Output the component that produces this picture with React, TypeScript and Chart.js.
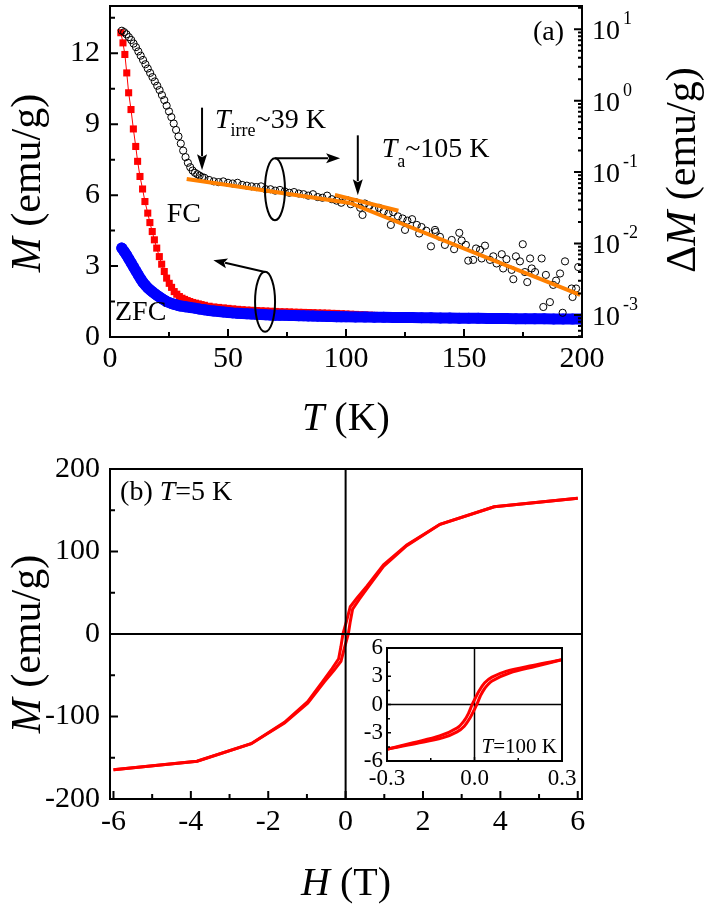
import React, { useEffect, useRef } from "react";
import { Chart, registerables } from "chart.js";
Chart.register(...registerables);

const SERIF = '"Liberation Serif", "Times New Roman", serif';
const RED = "#ff0000";
const BLUE = "#0000ff";
const ORANGE = "#ff8000";

// ---------------- Panel (a) : M(T) and ΔM(T) ----------------
const tTicks = [0, 50, 100, 150, 200];
const tMinor = [25, 75, 125, 175];
const mTicksA = [0, 3, 6, 9, 12];
const mMinorA = [1.5, 4.5, 7.5, 10.5, 13.5];
const dmDecades = [-3, -2, -1, 0, 1];

// FC (red squares)
const fcLowT = [4.6, 5.5, 6.3, 7.1, 7.9, 8.9, 9.9, 10.9, 11.7, 12.7, 13.8, 14.8, 16, 16.9, 17.9, 18.8, 19.8, 20.9, 21.9, 23, 24, 25.1, 26.1, 27.2, 28.3, 29.4, 30.5, 31.6, 32.7, 33.8, 35, 36.2, 37.4, 38.6, 40];
const fcLowM = [12.87, 12.44, 11.95, 11.17, 10.33, 9.62, 8.8, 8.06, 7.43, 6.79, 6.26, 5.73, 5.24, 4.84, 4.46, 4.11, 3.76, 3.4, 3.08, 2.77, 2.49, 2.27, 2.1, 1.92, 1.81, 1.71, 1.64, 1.59, 1.54, 1.5, 1.46, 1.43, 1.4, 1.37, 1.34];
const fcHighT = [42, 44, 46, 48, 50, 52, 54, 56, 58, 60, 62, 64, 66, 68, 70, 72, 74, 76, 78, 80, 82, 84, 86, 88, 90, 92, 94, 96, 98, 100, 102, 104, 106, 108, 110, 112, 116, 120, 124, 128, 132, 136, 140, 144, 148, 152, 156, 160, 164, 168, 172, 176, 180, 184, 188, 192, 196, 200];
const fcHighM = [1.3, 1.27, 1.25, 1.23, 1.21, 1.19, 1.17, 1.155, 1.14, 1.13, 1.12, 1.11, 1.1, 1.09, 1.08, 1.07, 1.065, 1.06, 1.05, 1.045, 1.04, 1.035, 1.03, 1.02, 1.015, 1.01, 1.0, 0.995, 0.985, 0.975, 0.965, 0.955, 0.945, 0.935, 0.925, 0.915, 0.9, 0.89, 0.88, 0.87, 0.865, 0.86, 0.855, 0.85, 0.845, 0.84, 0.835, 0.83, 0.83, 0.825, 0.82, 0.815, 0.81, 0.81, 0.805, 0.8, 0.8, 0.795];

// ZFC (blue circles)
const zfcT = [5, 6, 7, 8, 9, 10, 11, 12, 13, 14, 15, 16, 17, 18, 19, 20, 21, 22, 23, 24, 25, 26, 27, 28, 29, 30, 32, 34, 36, 38, 40, 42, 44, 46, 48, 50, 52, 54, 56, 58, 60, 62, 64, 66, 68, 70, 72, 74, 76, 78, 80, 82, 84, 86, 88, 90, 92, 94, 96, 98, 100, 104, 108, 112, 116, 120, 124, 128, 132, 136, 140, 144, 148, 152, 156, 160, 164, 168, 172, 176, 180, 184, 188, 192, 196, 200];
const zfcM = [3.76, 3.62, 3.47, 3.3, 3.13, 2.96, 2.79, 2.62, 2.46, 2.31, 2.19, 2.08, 1.99, 1.91, 1.83, 1.76, 1.69, 1.62, 1.56, 1.5, 1.46, 1.42, 1.39, 1.36, 1.33, 1.31, 1.28, 1.25, 1.22, 1.18, 1.15, 1.12, 1.1, 1.08, 1.06, 1.04, 1.02, 1.005, 0.99, 0.98, 0.97, 0.96, 0.95, 0.94, 0.93, 0.925, 0.92, 0.915, 0.91, 0.905, 0.9, 0.895, 0.89, 0.885, 0.88, 0.875, 0.87, 0.865, 0.86, 0.857, 0.854, 0.85, 0.845, 0.84, 0.835, 0.83, 0.825, 0.82, 0.815, 0.81, 0.805, 0.8, 0.797, 0.794, 0.79, 0.787, 0.784, 0.78, 0.777, 0.774, 0.771, 0.768, 0.765, 0.762, 0.76, 0.757];

// ΔM (open circles, right log axis)
const dmLowT = [5, 6, 7, 8, 9, 10, 11, 12, 13, 14, 15, 16, 17, 18, 19, 20, 21, 22, 23, 24, 25, 26, 27, 28, 29, 30, 31, 32, 33, 34, 35, 36, 37, 38, 39, 40];
const dmLowV = [9.55, 9.12, 8.51, 7.76, 7.08, 6.31, 5.62, 4.9, 4.27, 3.72, 3.24, 2.82, 2.45, 2.14, 1.86, 1.62, 1.41, 1.2, 1.02, 0.851, 0.708, 0.589, 0.479, 0.389, 0.316, 0.251, 0.2, 0.162, 0.135, 0.117, 0.105, 0.0977, 0.0933, 0.0891, 0.0851, 0.0832];
const dmMidT = [42, 44, 46, 48, 50, 52, 54, 56, 58, 60, 62, 64, 66, 68, 70, 72, 74, 76, 78, 80, 82, 84, 86, 88, 90, 92, 94, 96, 98, 100, 102, 104, 106, 108, 110, 112, 114, 116, 118, 120, 122, 124, 126, 128, 130, 132, 134, 136, 138, 101, 107, 119, 125, 131, 137.7];
const dmMidV = [0.0776, 0.0741, 0.0724, 0.0741, 0.0708, 0.0692, 0.0708, 0.0661, 0.0646, 0.0631, 0.0617, 0.0631, 0.0575, 0.0575, 0.055, 0.0562, 0.0537, 0.0513, 0.0525, 0.0501, 0.049, 0.0468, 0.049, 0.0447, 0.0437, 0.0468, 0.0417, 0.0398, 0.0372, 0.0407, 0.0355, 0.038, 0.0316, 0.0363, 0.0339, 0.0302, 0.0316, 0.0282, 0.0263, 0.0275, 0.024, 0.0224, 0.0209, 0.0219, 0.0182, 0.017, 0.0151, 0.00912, 0.0145, 0.0398, 0.0251, 0.0182, 0.0155, 0.0138, 0.0155];
const dmHighT = [139.8, 141.9, 144.8, 145.8, 148, 149, 150.8, 151.8, 153.9, 155.1, 156.8, 157.5, 158.9, 161, 162.4, 163.8, 166, 166.6, 168, 170.2, 170.9, 172, 173.7, 174.9, 175.8, 176.8, 178, 178.7, 180.1, 182.9, 183.6, 184.7, 186.4, 187.8, 189, 190.7, 191.8, 192.8, 195.6, 196, 197.5, 198.4];
const dmHighV = [0.0124, 0.00955, 0.0112, 0.00832, 0.0141, 0.011, 0.00955, 0.00575, 0.00589, 0.00851, 0.00813, 0.00617, 0.00933, 0.00589, 0.00661, 0.00525, 0.00708, 0.00447, 0.00603, 0.00427, 0.00316, 0.00661, 0.00562, 0.00977, 0.00398, 0.00288, 0.00617, 0.00447, 0.00398, 0.00617, 0.00129, 0.00363, 0.00151, 0.00263, 0.00302, 0.0038, 0.00107, 0.00562, 0.00234, 0.00178, 0.00234, 0.00468];

// Orange linear fits on the log axis
const fitAT = [32.5, 101.7];
const fitAV = [0.08, 0.0369];
const fitBT = [95.3, 122.2];
const fitBV = [0.0479, 0.0288];
const fitCT = [101.7, 199.2];
const fitCV = [0.0369, 0.00191];

// ---------------- Panel (b) : M(H) at 5 K ----------------
const hTicks = [-6, -4, -2, 0, 2, 4, 6];
const hMinor = [-5, -3, -1, 1, 3, 5];
const mTicksB = [-200, -100, 0, 100, 200];
const mMinorB = [-150, -50, 50, 150];
const loopDownH = [6, 3.84, 2.44, 1.58, 0.98, 0.55, 0.3, 0.12, 0.02, -0.07, -0.12, -0.18, -0.35, -0.6, -0.98, -1.58, -2.44, -3.84, -6];
const loopDownM = [164.5, 154.3, 133, 108, 84, 58, 44, 33, 15, 0, -15, -30, -42, -58, -82, -107, -133, -154.3, -164.5];
const loopUpH = [-6, -3.84, -2.44, -1.58, -0.98, -0.55, -0.3, -0.12, -0.02, 0.07, 0.12, 0.18, 0.35, 0.6, 0.98, 1.58, 2.44, 3.84, 6];
const loopUpM = [-164.5, -154.3, -133, -108, -84, -58, -44, -33, -15, 0, 15, 30, 42, 58, 82, 107, 133, 154.3, 164.5];

// Inset : M(H) at 100 K
const inHTicks = [-0.3, 0, 0.3];
const inHMinor = [-0.15, 0.15];
const inMTicks = [-6, -3, 0, 3, 6];
const inMMinor = [-4.5, -1.5, 1.5, 4.5];
const inDownH = [0.3, 0.2, 0.11, 0.06, 0.035, 0.015, 0.0, -0.008, -0.02, -0.035, -0.06, -0.12, -0.21, -0.3];
const inDownM = [4.75, 4.15, 3.55, 2.9, 2.3, 1.4, 0.5, 0, -0.9, -1.7, -2.5, -3.35, -4.06, -4.75];
const inUpH = [-0.3, -0.2, -0.11, -0.06, -0.035, -0.015, 0.0, 0.008, 0.02, 0.035, 0.06, 0.12, 0.21, 0.3];
const inUpM = [-4.75, -4.15, -3.55, -2.9, -2.3, -1.4, -0.5, 0, 0.9, 1.7, 2.5, 3.35, 4.06, 4.75];

// ---------------- helpers ----------------
const pts = (xs: number[], ys: number[]) => xs.map((x, i) => ({ x, y: ys[i] }));

type Run = { t: string; italic?: boolean; size: number; dy?: number };

function drawRuns(ctx: CanvasRenderingContext2D, runs: Run[], x: number, y: number, align: "left" | "center" | "right") {
  ctx.textAlign = "left";
  ctx.textBaseline = "alphabetic";
  let w = 0;
  for (const r of runs) {
    ctx.font = `${r.italic ? "italic " : ""}${r.size}px ${SERIF}`;
    w += ctx.measureText(r.t).width;
  }
  let cx = align === "left" ? x : align === "center" ? x - w / 2 : x - w;
  for (const r of runs) {
    ctx.font = `${r.italic ? "italic " : ""}${r.size}px ${SERIF}`;
    ctx.fillText(r.t, cx, y + (r.dy || 0));
    cx += ctx.measureText(r.t).width;
  }
}

function drawRotated(ctx: CanvasRenderingContext2D, runs: Run[], x: number, y: number) {
  ctx.save();
  ctx.translate(x, y);
  ctx.rotate(-Math.PI / 2);
  drawRuns(ctx, runs, 0, 0, "center");
  ctx.restore();
}

function arrow(ctx: CanvasRenderingContext2D, x1: number, y1: number, x2: number, y2: number, hl = 15, hw = 5) {
  const a = Math.atan2(y2 - y1, x2 - x1);
  const bx = x2 - hl * Math.cos(a);
  const by = y2 - hl * Math.sin(a);
  ctx.beginPath();
  ctx.moveTo(x1, y1);
  ctx.lineTo(bx + 2 * Math.cos(a), by + 2 * Math.sin(a));
  ctx.stroke();
  ctx.beginPath();
  ctx.moveTo(x2, y2);
  ctx.lineTo(bx + hw * Math.sin(a), by - hw * Math.cos(a));
  ctx.lineTo(bx + 3 * Math.cos(a), by + 3 * Math.sin(a));
  ctx.lineTo(bx - hw * Math.sin(a), by + hw * Math.cos(a));
  ctx.closePath();
  ctx.fill();
}

function ticksBottom(ctx: CanvasRenderingContext2D, s: any, bottom: number, vals: number[], len: number) {
  for (const v of vals) {
    const x = s.getPixelForValue(v);
    ctx.moveTo(x, bottom);
    ctx.lineTo(x, bottom - len);
  }
}
function ticksLeft(ctx: CanvasRenderingContext2D, s: any, left: number, vals: number[], len: number) {
  for (const v of vals) {
    const y = s.getPixelForValue(v);
    ctx.moveTo(left, y);
    ctx.lineTo(left + len, y);
  }
}
function ticksRight(ctx: CanvasRenderingContext2D, s: any, right: number, vals: number[], len: number) {
  for (const v of vals) {
    const y = s.getPixelForValue(v);
    ctx.moveTo(right, y);
    ctx.lineTo(right - len, y);
  }
}

const fixW = (w: number) => (s: any) => {
  s.width = w;
  s.paddingTop = 0;
  s.paddingBottom = 0;
  s.paddingLeft = 0;
  s.paddingRight = 0;
};
const fixH = (h: number) => (s: any) => {
  s.height = h;
  s.paddingTop = 0;
  s.paddingBottom = 0;
  s.paddingLeft = 0;
  s.paddingRight = 0;
};
const useTicks = (vals: number[]) => (s: any) => {
  s.ticks = vals.map((v) => ({ value: v }));
};

const noGrid = { display: false, drawTicks: false };
const noBorder = { display: false };

// ---------------- chart builders ----------------
function makeTop(canvas: HTMLCanvasElement) {
  const plugin = {
    id: "panelA",
    afterDraw(chart: any) {
      const { ctx, chartArea: a, scales } = chart;
      const xs = scales.x, ys = scales.y, yr = scales.y1;
      const X = (v: number) => xs.getPixelForValue(v);
      const Y = (v: number) => ys.getPixelForValue(v);
      ctx.save();
      ctx.strokeStyle = "#000";
      ctx.fillStyle = "#000";
      ctx.lineWidth = 2;
      ctx.strokeRect(a.left, a.top, a.right - a.left, a.bottom - a.top);
      ctx.beginPath();
      ticksBottom(ctx, xs, a.bottom, tTicks, 8);
      ticksBottom(ctx, xs, a.bottom, tMinor, 5);
      ticksLeft(ctx, ys, a.left, mTicksA, 8);
      ticksLeft(ctx, ys, a.left, mMinorA, 5);
      ticksRight(ctx, yr, a.right, dmDecades.map((e) => Math.pow(10, e)), 8);
      const minor: number[] = [];
      for (let e = -4; e <= 1; e++) {
        for (let m = 2; m <= 9; m++) {
          const v = m * Math.pow(10, e);
          if (v >= yr.min && v <= yr.max) minor.push(v);
        }
      }
      ticksRight(ctx, yr, a.right, minor, 4);
      ctx.stroke();

      // right log labels 10^n
      for (const e of dmDecades) {
        const y = yr.getPixelForValue(Math.pow(10, e));
        ctx.font = `28px ${SERIF}`;
        ctx.textAlign = "left";
        ctx.textBaseline = "alphabetic";
        ctx.fillText("10", a.right + 10, y + 10);
        const w = ctx.measureText("10").width;
        ctx.font = `18px ${SERIF}`;
        ctx.fillText(String(e), a.right + 10 + w + 3, y - 5);
      }

      // axis titles
      drawRuns(ctx, [{ t: "T", italic: true, size: 40 }, { t: " (K)", size: 40 }], (a.left + a.right) / 2, 430, "center");
      drawRotated(ctx, [{ t: "M", italic: true, size: 42 }, { t: " (emu/g)", size: 42 }], 40, 183);
      drawRotated(ctx, [{ t: "Δ", size: 42 }, { t: "M", italic: true, size: 42 }, { t: " (emu/g)", size: 42 }], 695, 170);

      // annotations
      drawRuns(ctx, [{ t: "(a)", size: 28 }], X(179.2), Y(12.55), "left");
      drawRuns(ctx, [{ t: "FC", size: 28 }], X(24), Y(4.87), "left");
      drawRuns(ctx, [{ t: "ZFC", size: 28 }], X(2.1), Y(0.72), "left");
      drawRuns(ctx, [{ t: "T", italic: true, size: 28 }, { t: "irre", size: 18, dy: 8 }, { t: "~39 K", size: 28 }], X(44.5), Y(8.84), "left");
      drawRuns(ctx, [{ t: "T", italic: true, size: 28 }, { t: "a", size: 18, dy: 10 }, { t: "~105 K", size: 28 }], X(115.1), Y(7.62), "left");

      ctx.lineWidth = 2;
      arrow(ctx, X(39), Y(9.7), X(39), Y(7.05), 16, 5);
      arrow(ctx, X(105), Y(8.53), X(105), Y(6.0), 16, 5);

      // ellipse for ΔM -> right axis
      ctx.beginPath();
      ctx.ellipse(X(69.9), Y(6.25), 10, 31, 0, 0, Math.PI * 2);
      ctx.stroke();
      arrow(ctx, X(69.9), Y(7.56), X(97.5), Y(7.56), 14, 5);

      // ellipse for M -> left axis
      ctx.beginPath();
      ctx.ellipse(X(65.7), Y(1.49), 10, 30, 0, 0, Math.PI * 2);
      ctx.stroke();
      arrow(ctx, X(65.7), Y(2.75), X(43.8), Y(3.25), 14, 5);
      ctx.restore();
    },
  };

  return new Chart(canvas, {
    type: "scatter",
    data: {
      datasets: [
        { data: pts(fitAT, fitAV), yAxisID: "y1", showLine: true, borderColor: ORANGE, borderWidth: 4, pointRadius: 0, order: 0, clip: 0 } as any,
        { data: pts(fitBT, fitBV), yAxisID: "y1", showLine: true, borderColor: ORANGE, borderWidth: 4, pointRadius: 0, order: 0, clip: 0 },
        { data: pts(fitCT, fitCV), yAxisID: "y1", showLine: true, borderColor: ORANGE, borderWidth: 4, pointRadius: 0, order: 0, clip: 0 },
        {
          data: [...pts(dmLowT, dmLowV), ...pts(dmMidT, dmMidV), ...pts(dmHighT, dmHighV)],
          yAxisID: "y1", showLine: false, pointRadius: 3.6, pointBorderWidth: 1,
          borderColor: "#000", backgroundColor: "rgba(0,0,0,0)", order: 1, clip: 0,
        },
        {
          data: pts(zfcT, zfcM), yAxisID: "y", showLine: true, borderColor: BLUE, borderWidth: 11,
          borderCapStyle: "round", borderJoinStyle: "round", pointRadius: 5.5, pointBorderWidth: 0,
          backgroundColor: BLUE, order: 2, clip: 0,
        },
        {
          data: [...pts(fcLowT, fcLowM), ...pts(fcHighT, fcHighM)], yAxisID: "y", showLine: true,
          borderColor: RED, borderWidth: 1, pointStyle: "rect", pointRadius: 5, pointBorderWidth: 0,
          backgroundColor: RED, order: 3, clip: 0,
        },
      ],
    },
    options: {
      responsive: false,
      animation: false,
      events: [],
      devicePixelRatio: 1,
      layout: { padding: { top: 6, bottom: 532, left: 0, right: 0 } },
      plugins: { legend: { display: false }, tooltip: { enabled: false }, title: { display: false } },
      scales: {
        x: {
          type: "linear", position: "bottom", min: 0, max: 200,
          grid: noGrid, border: noBorder,
          ticks: { font: { family: SERIF, size: 30 }, color: "#000", padding: 4, maxRotation: 0, autoSkip: false },
          afterBuildTicks: useTicks(tTicks), afterFit: fixH(40),
        },
        y: {
          type: "linear", position: "left", min: 0, max: 14,
          grid: noGrid, border: noBorder,
          ticks: { font: { family: SERIF, size: 30 }, color: "#000", padding: 10, autoSkip: false },
          afterBuildTicks: useTicks(mTicksA), afterFit: fixW(110),
        },
        y1: {
          type: "logarithmic", position: "right", min: 4.9e-4, max: 21.2,
          grid: noGrid, border: noBorder,
          ticks: { display: false },
          afterFit: fixW(122),
        },
      },
    } as any,
    plugins: [plugin],
  });
}

function makeBottom(canvas: HTMLCanvasElement) {
  const plugin = {
    id: "panelB",
    afterDatasetsDraw(chart: any) {
      const { ctx, chartArea: a, scales } = chart;
      ctx.save();
      ctx.strokeStyle = "#000";
      ctx.lineWidth = 2;
      ctx.beginPath();
      const x0 = scales.x.getPixelForValue(0);
      const y0 = scales.y.getPixelForValue(0);
      ctx.moveTo(x0, a.top);
      ctx.lineTo(x0, a.bottom);
      ctx.moveTo(a.left, y0);
      ctx.lineTo(a.right, y0);
      ctx.stroke();
      ctx.restore();
    },
    afterDraw(chart: any) {
      const { ctx, chartArea: a, scales } = chart;
      const xs = scales.x, ys = scales.y;
      ctx.save();
      ctx.strokeStyle = "#000";
      ctx.fillStyle = "#000";
      ctx.lineWidth = 2;
      ctx.strokeRect(a.left, a.top, a.right - a.left, a.bottom - a.top);
      ctx.beginPath();
      ticksBottom(ctx, xs, a.bottom, hTicks, 8);
      ticksBottom(ctx, xs, a.bottom, hMinor, 5);
      ticksLeft(ctx, ys, a.left, mTicksB, 8);
      ticksLeft(ctx, ys, a.left, mMinorB, 5);
      ctx.stroke();
      drawRuns(ctx, [{ t: "H", italic: true, size: 40 }, { t: " (T)", size: 40 }], (a.left + a.right) / 2, 895, "center");
      drawRotated(ctx, [{ t: "M", italic: true, size: 42 }, { t: " (emu/g)", size: 42 }], 40, 644);
      drawRuns(ctx, [{ t: "(b) ", size: 28 }, { t: "T", italic: true, size: 28 }, { t: "=5 K", size: 28 }], xs.getPixelForValue(-5.83), ys.getPixelForValue(162.4), "left");
      ctx.restore();
    },
  };
  return new Chart(canvas, {
    type: "scatter",
    data: {
      datasets: [
        { data: pts(loopDownH, loopDownM), showLine: true, borderColor: RED, borderWidth: 3, pointRadius: 0, tension: 0, clip: 0 },
        { data: pts(loopUpH, loopUpM), showLine: true, borderColor: RED, borderWidth: 3, pointRadius: 0, tension: 0, clip: 0 },
      ],
    },
    options: {
      responsive: false,
      animation: false,
      events: [],
      devicePixelRatio: 1,
      layout: { padding: { top: 469, bottom: 70, left: 0, right: 122 } },
      plugins: { legend: { display: false }, tooltip: { enabled: false } },
      scales: {
        x: {
          type: "linear", position: "bottom", min: -6.09, max: 6.11,
          grid: noGrid, border: noBorder,
          ticks: { font: { family: SERIF, size: 30 }, color: "#000", padding: 5, maxRotation: 0, autoSkip: false },
          afterBuildTicks: useTicks(hTicks), afterFit: fixH(40),
        },
        y: {
          type: "linear", position: "left", min: -200, max: 200,
          grid: noGrid, border: noBorder,
          ticks: { font: { family: SERIF, size: 30 }, color: "#000", padding: 10, autoSkip: false },
          afterBuildTicks: useTicks(mTicksB), afterFit: fixW(110),
        },
      },
    } as any,
    plugins: [plugin],
  });
}

function makeInset(canvas: HTMLCanvasElement) {
  const plugin = {
    id: "inset",
    beforeDatasetsDraw(chart: any) {
      const { ctx, chartArea: a, scales } = chart;
      ctx.save();
      ctx.fillStyle = "#fff";
      ctx.fillRect(a.left, a.top, a.right - a.left, a.bottom - a.top);
      ctx.strokeStyle = "#000";
      ctx.lineWidth = 1.5;
      ctx.beginPath();
      const x0 = scales.x.getPixelForValue(0);
      const y0 = scales.y.getPixelForValue(0);
      ctx.moveTo(x0, a.top);
      ctx.lineTo(x0, a.bottom);
      ctx.moveTo(a.left, y0);
      ctx.lineTo(a.right, y0);
      ctx.stroke();
      ctx.restore();
    },
    afterDraw(chart: any) {
      const { ctx, chartArea: a, scales } = chart;
      const xs = scales.x, ys = scales.y;
      ctx.save();
      ctx.strokeStyle = "#000";
      ctx.fillStyle = "#000";
      ctx.lineWidth = 2;
      ctx.strokeRect(a.left, a.top, a.right - a.left, a.bottom - a.top);
      ctx.lineWidth = 1.5;
      ctx.beginPath();
      ticksBottom(ctx, xs, a.bottom, inHTicks, 4);
      ticksBottom(ctx, xs, a.bottom, inHMinor, 3);
      ticksLeft(ctx, ys, a.left, inMTicks, 4);
      ticksLeft(ctx, ys, a.left, inMMinor, 3);
      ctx.stroke();
      drawRuns(ctx, [{ t: "T", italic: true, size: 21 }, { t: "=100 K", size: 21 }], xs.getPixelForValue(0.024), ys.getPixelForValue(-5.12), "left");
      ctx.restore();
    },
  };
  return new Chart(canvas, {
    type: "scatter",
    data: {
      datasets: [
        { data: pts(inDownH, inDownM), showLine: true, borderColor: RED, borderWidth: 3, pointRadius: 0, tension: 0.35, clip: 0 },
        { data: pts(inUpH, inUpM), showLine: true, borderColor: RED, borderWidth: 3, pointRadius: 0, tension: 0.35, clip: 0 },
      ],
    },
    options: {
      responsive: false,
      animation: false,
      events: [],
      devicePixelRatio: 1,
      layout: { padding: { top: 648, bottom: 118, left: 357, right: 142 } },
      plugins: { legend: { display: false }, tooltip: { enabled: false } },
      scales: {
        x: {
          type: "linear", position: "bottom", min: -0.3, max: 0.3,
          grid: noGrid, border: noBorder,
          ticks: {
            font: { family: SERIF, size: 23 }, color: "#000", padding: 4, maxRotation: 0, autoSkip: false,
            callback: (v: any) => Number(v).toFixed(1),
          },
          afterBuildTicks: useTicks(inHTicks), afterFit: fixH(30),
        },
        y: {
          type: "linear", position: "left", min: -6, max: 6,
          grid: noGrid, border: noBorder,
          ticks: { font: { family: SERIF, size: 23 }, color: "#000", padding: 4, autoSkip: false },
          afterBuildTicks: useTicks(inMTicks), afterFit: fixW(30),
        },
      },
    } as any,
    plugins: [plugin],
  });
}

export default function App() {
  const refA = useRef<HTMLCanvasElement>(null);
  const refB = useRef<HTMLCanvasElement>(null);
  const refC = useRef<HTMLCanvasElement>(null);
  useEffect(() => {
    const charts = [makeTop(refA.current!), makeBottom(refB.current!), makeInset(refC.current!)];
    return () => charts.forEach((c) => c.destroy());
  }, []);
  const st: React.CSSProperties = { position: "absolute", left: 0, top: 0 };
  return (
    <div style={{ position: "absolute", left: 0, top: 0, width: 704, height: 909, background: "#fff" }}>
      <canvas ref={refA} width={704} height={909} style={st} />
      <canvas ref={refB} width={704} height={909} style={st} />
      <canvas ref={refC} width={704} height={909} style={st} />
    </div>
  );
}
